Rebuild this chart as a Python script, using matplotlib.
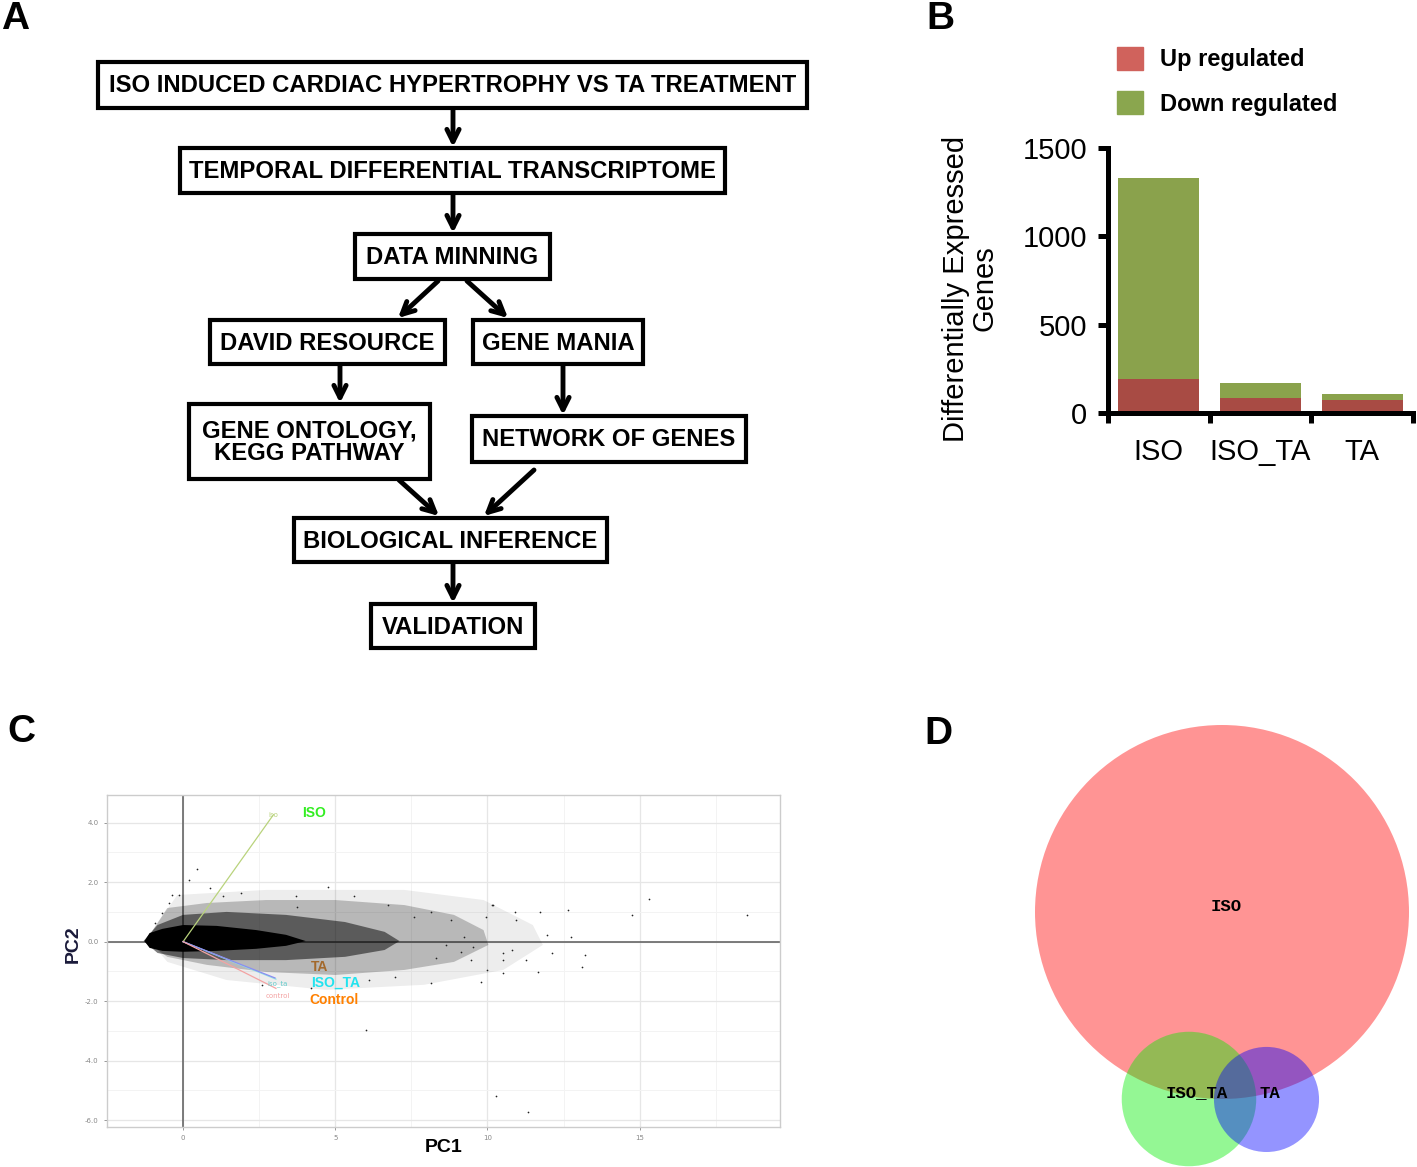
import matplotlib
matplotlib.use('Agg')
import matplotlib.pyplot as plt
from matplotlib.patches import Rectangle, Polygon, Circle
from matplotlib import font_manager
import numpy as np

# ---------------- data ----------------
# panel A: workflow steps
flow_steps = ['ISO INDUCED CARDIAC HYPERTROPHY VS TA TREATMENT',
              'TEMPORAL DIFFERENTIAL TRANSCRIPTOME',
              'DATA MINNING',
              'DAVID RESOURCE',
              'GENE MANIA',
              'GENE ONTOLOGY,\nKEGG PATHWAY',
              'NETWORK OF GENES',
              'BIOLOGICAL INFERENCE',
              'VALIDATION']

# panel B: differentially expressed genes
groups = ['ISO', 'ISO_TA', 'TA']
up_reg = [190, 85, 75]
down_reg = [1140, 87, 30]

# panel C: PCA biplot
load_names = ['iso', 'iso_ta', 'ta', 'control']
load_pc1 = [2.97, 3.05, 3.02, 3.05]
load_pc2 = [4.27, -1.26, -1.22, -1.57]
group_labels = ['ISO', 'TA', 'ISO_TA', 'Control']
group_lab_pc1 = [3.9, 4.19, 4.19, 4.16]
group_lab_pc2 = [4.33, -0.84, -1.37, -1.97]

# sparse genes outside the dense cloud
pc1_pts = [0.46, 0.20, 4.77, 3.70, 15.32, 18.52, 14.76, 12.65, 12.73, 12.12, 13.19,
           13.11, 11.66, 11.28, 9.98, 9.80, 6.02, 10.29, 11.33, 10.14, 10.90, 11.74,
           9.22, 9.53, 10.82, 10.52, 11.97, 8.16, 3.73, 1.30, -0.35, -0.91, -0.69,
           -0.46, -0.15, 6.72, 7.60, 8.80, 9.94, 10.19, 10.94, 8.64, 8.31, 9.12,
           9.45, 10.52, 8.15, 6.95, 10.52, 0.9, 1.9, 2.6, 5.6, 4.2, 6.1]
pc2_pts = [2.44, 2.06, 1.83, 1.52, 1.44, 0.90, 0.90, 1.07, 0.17, -0.39, -0.45,
           -0.84, -1.01, -0.62, -0.96, -1.35, -2.96, -5.20, -5.71, 1.24, 1.01, 1.01,
           0.17, -0.17, -0.28, -0.62, 0.22, 1.01, 1.18, 1.52, 1.57, 0.62, 0.96,
           1.29, 1.57, 1.24, 0.83, 0.73, 0.83, 1.24, 0.73, -0.11, -0.55, -0.35,
           -0.61, -0.38, -1.39, -1.19, -1.05, 1.8, 1.65, -1.45, 1.55, -1.55, -1.3]

# envelopes of the dense gene cloud (outer -> core)
cloud_outer = [(-1.17, 0.13), (-0.19, 1.57), (2.73, 1.74), (7.27, 1.74), (9.87, 1.40),
               (11.49, 0.56), (11.82, -0.11), (10.52, -0.95), (7.92, -1.45),
               (4.68, -1.62), (1.43, -1.29), (-0.52, -0.68)]
cloud_mid = [(-1.23, 0.02), (-0.52, 1.13), (0.78, 1.30), (2.73, 1.40), (5.0, 1.40),
             (7.27, 1.23), (8.9, 0.90), (9.87, 0.39), (10.03, -0.11), (8.9, -0.68),
             (7.27, -0.95), (5.0, -1.12), (2.73, -1.02), (0.78, -0.78), (-0.52, -0.51)]
cloud_dense = [(-1.30, 0.02), (-0.84, 0.56), (0.0, 0.90), (1.43, 1.0), (3.38, 0.90),
               (5.32, 0.66), (6.62, 0.33), (7.11, 0.02), (6.62, -0.28), (5.32, -0.51),
               (3.38, -0.62), (1.43, -0.62), (0.0, -0.55), (-0.84, -0.38)]
cloud_core = [(-1.27, 0.02), (-1.10, 0.29), (-0.68, 0.43), (0.0, 0.56), (1.10, 0.53),
              (2.40, 0.39), (3.38, 0.23), (4.03, 0.02), (3.38, -0.14), (2.40, -0.24),
              (1.10, -0.31), (0.0, -0.34), (-0.68, -0.31), (-1.10, -0.21)]

# panel D: Venn of the gene sets (area ~ gene count)
venn_sets = ['ISO', 'ISO_TA', 'TA']
venn_totals = [u + d for u, d in zip(up_reg, down_reg)]

# ---------------- figure ----------------
W, H = 1417, 1167
fig = plt.figure(figsize=(W / 100, H / 100), dpi=100)

names = {f.name for f in font_manager.fontManager.ttflist}
flow_font = 'Liberation Sans Narrow' if 'Liberation Sans Narrow' in names else 'Liberation Sans'

# ---- panel A: flow chart (pixel coordinates) ----
axa = fig.add_axes([0, 0, 1, 1])
axa.set_xlim(0, W)
axa.set_ylim(H, 0)
axa.axis('off')
axa.patch.set_alpha(0)

boxes = [(98, 62, 807, 108), (180, 148, 725, 193), (355, 234, 550, 279),
         (210, 320, 445, 364), (473, 320, 643, 364), (189, 404, 430, 479),
         (472, 416, 746, 462), (294, 518, 607, 562), (371, 604, 535, 648)]
arrows = [((453, 110), (453, 147)), ((453, 195), (453, 233)), ((438, 281), (398, 318)),
          ((467, 281), (508, 318)), ((340, 366), (340, 403)), ((563, 366), (563, 415)),
          ((399, 480), (439, 516)), ((534, 470), (484, 516)), ((453, 564), (453, 603))]

# fit font size to the widest box
probe = axa.text(0, 0, flow_steps[0], fontsize=20, fontweight='bold', family=flow_font)
fig.canvas.draw()
wpx = probe.get_window_extent().width
probe.remove()
fs = min(21, 20 * 686 / wpx)

for label, (x0, y0, x1, y1) in zip(flow_steps, boxes):
    axa.add_patch(Rectangle((x0, y0), x1 - x0, y1 - y0, fc='white', ec='black', lw=3))
    axa.text((x0 + x1) / 2, (y0 + y1) / 2 + 1, label, ha='center', va='center',
             fontsize=fs, fontweight='bold', family=flow_font, linespacing=0.95)

for (xs, ys), (xe, ye) in arrows:
    axa.annotate('', xy=(xe, ye), xytext=(xs, ys),
                 arrowprops=dict(arrowstyle='->', lw=3.5, color='black',
                                 mutation_scale=22, shrinkA=0, shrinkB=0))

# panel letters
for letter, (px, py) in zip('ABCD', [(1, 1), (926, 1), (7, 714), (924, 716)]):
    fig.text(px / W, 1 - py / H, letter, fontsize=28, fontweight='bold',
             family='Liberation Sans', va='top', ha='left')

# ---- panel B: stacked bars ----
axb = fig.add_axes([1108 / W, 1 - 413 / H, 305 / W, 265 / H])
x = np.arange(len(groups))
axb.bar(x, up_reg, 0.8, color='#a84b44', zorder=2)
axb.bar(x, down_reg, 0.8, bottom=up_reg, color='#8aa24c', zorder=2)
axb.set_xlim(-0.5, 2.5)
axb.set_ylim(0, 1500)
for s in ['top', 'right']:
    axb.spines[s].set_visible(False)
for s in ['left', 'bottom']:
    axb.spines[s].set_linewidth(3.6)
axb.set_yticks([0, 500, 1000, 1500])
axb.set_xticks(x)
axb.set_xticklabels(groups)
axb.set_xticks([-0.5, 0.5, 1.5, 2.5], minor=True)
axb.tick_params(axis='y', length=7, width=3.6, pad=8, labelsize=21)
axb.tick_params(axis='x', which='major', length=0, pad=18, labelsize=21)
axb.tick_params(axis='x', which='minor', length=7, width=3.6)
for t in axb.get_xticklabels() + axb.get_yticklabels():
    t.set_family('Liberation Sans')
axb.set_ylabel('Differentially Expressed\nGenes', fontsize=21, family='Liberation Sans',
               linespacing=1.0)
axb.yaxis.set_label_coords(-0.36, 0.47)
leg_handles = [Rectangle((0, 0), 1, 1, color='#d0625c'), Rectangle((0, 0), 1, 1, color='#8aa64e')]
axb.legend(leg_handles, ['Up regulated', 'Down regulated'], loc='upper left',
           bbox_to_anchor=(1117 / W, 1 - 47 / H), bbox_transform=fig.transFigure,
           frameon=False, handlelength=1.1, handleheight=1.1, handletextpad=0.7,
           labelspacing=0.85, borderaxespad=0, borderpad=0,
           prop={'family': 'Liberation Sans', 'weight': 'bold', 'size': 17})

# ---- panel C: PCA biplot ----
axc = fig.add_axes([107 / W, 1 - 1127 / H, 673 / W, 332 / H])
axc.set_axisbelow(True)
axc.set_xlim(-2.23, 19.61)
axc.set_ylim(-6.23, 4.93)
axc.set_xticks([0, 5, 10, 15])
axc.set_xticklabels(['0', '5', '10', '15'])
axc.set_yticks([4, 2, 0, -2, -4, -6])
axc.set_yticklabels(['4.0', '2.0', '0.0', '-2.0', '-4.0', '-6.0'])
axc.set_xticks([-2.5, 2.5, 7.5, 12.5, 17.5], minor=True)
axc.set_yticks([3, 1, -1, -3, -5], minor=True)
axc.grid(which='major', color='#e6e6e6', lw=0.9)
axc.grid(which='minor', color='#f3f3f3', lw=0.7)
axc.tick_params(which='both', labelsize=5, colors='#888888', length=2.5, width=0.6)
axc.tick_params(which='minor', length=0)
for s in axc.spines.values():
    s.set_color('#cccccc')
    s.set_linewidth(1.0)

axc.axhline(0, color='#666666', lw=1.2, zorder=0.9)
axc.axvline(0, color='#666666', lw=1.2, zorder=0.9)

axc.add_patch(Polygon(cloud_outer, closed=True, fc='black', alpha=0.07, lw=0, zorder=1))
axc.add_patch(Polygon(cloud_mid, closed=True, fc='black', alpha=0.22, lw=0, zorder=1))
axc.add_patch(Polygon(cloud_dense, closed=True, fc='black', alpha=0.5, lw=0, zorder=1))
axc.add_patch(Polygon(cloud_core, closed=True, fc='black', lw=0, zorder=1))
axc.scatter(pc1_pts, pc2_pts, s=1.5, c='#222222', lw=0, zorder=2)

load_colors = ['#b9d37c', '#8fe3e3', '#8c8cf0', '#f4a3a3']
for lx, ly, c in zip(load_pc1, load_pc2, load_colors):
    axc.plot([0, lx], [0, ly], color=c, lw=0.9, zorder=3)
small_pos = [(2.97, 4.27), (3.1, -1.4), (3.1, -1.4), (3.1, -1.83)]
small_cols = ['#b9d37c', '#66cccc', '#9a9af5', '#f4a3a3']
for nm, (sx, sy), c in zip(load_names, small_pos, small_cols):
    if nm == 'ta':
        continue
    axc.text(sx, sy, nm, fontsize=5, color=c, ha='center', va='center', zorder=4)

group_cols = ['#33ee22', '#a3692c', '#22e3ef', '#ff8000']
for g, gx, gy, c in zip(group_labels, group_lab_pc1, group_lab_pc2, group_cols):
    axc.text(gx, gy, g, fontsize=10, fontweight='bold', color=c, ha='left', va='center',
             family='Liberation Sans', zorder=4)

axc.set_xlabel('PC1', fontsize=14, fontweight='bold', family='Liberation Sans')
axc.xaxis.set_label_coords(0.5, -0.035)
axc.set_ylabel('PC2', fontsize=14, fontweight='bold', family='Liberation Sans', color='#1a1a3a')
axc.yaxis.set_label_coords(-0.038, 0.55)

# ---- panel D: Venn diagram ----
k = 187 / np.sqrt(venn_totals[0])   # px per sqrt(gene)
axd = fig.add_axes([1000 / W, 0, 417 / W, 467 / H])
axd.set_xlim((1000 - 1222) / k, (1417 - 1222) / k)
axd.set_ylim((912 - 1167) / k, (912 - 700) / k)
axd.axis('off')
venn_centers = [(0, 0), (-6.44, -36.47), (8.68, -36.56)]
venn_cols = ['red', '#00ee00', 'blue']
for tot, (cx, cy), c in zip(venn_totals, venn_centers, venn_cols):
    axd.add_patch(Circle((cx, cy), np.sqrt(tot), fc=c, alpha=0.42, lw=0))
venn_lab_pos = [(0.78, 1.17), (-4.9, -35.3), (9.36, -35.3)]
for nm, (tx, ty) in zip(venn_sets, venn_lab_pos):
    axd.text(tx, ty, nm, fontsize=12.5, fontweight='bold', family='Liberation Mono',
             ha='center', va='center')

fig.savefig('out.png', dpi=100)
